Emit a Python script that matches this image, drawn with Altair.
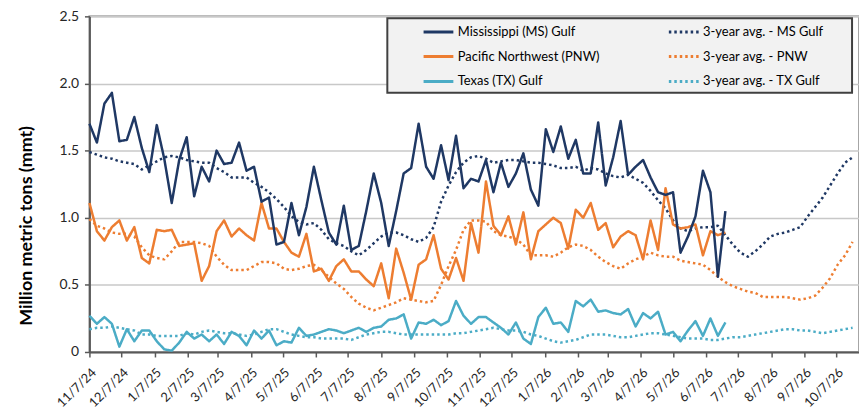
import altair as alt
import pandas as pd

start_date = "2024-11-07"

series_names = [
    "Mississippi (MS) Gulf",
    "3-year avg. - MS Gulf",
    "Pacific Northwest (PNW)",
    "3-year avg. - PNW",
    "Texas (TX) Gulf",
    "3-year avg. - TX Gulf",
]
series_colors = ["#1f3864", "#1f3864", "#ed7d31", "#ed7d31", "#4bacc6", "#4bacc6"]
series_dashes = [[1, 0], [2.5, 3], [1, 0], [2.5, 3], [1, 0], [2.5, 3]]

# weekly actual inspections (million metric tons), from 11/7/24
ms_gulf = [1.70, 1.56, 1.85, 1.93, 1.57, 1.58, 1.75, 1.52, 1.34, 1.69,
           1.44, 1.11, 1.43, 1.60, 1.16, 1.38, 1.27, 1.50, 1.40, 1.41,
           1.56, 1.35, 1.38, 1.12, 1.15, 0.80, 0.82, 1.11, 0.87, 1.08,
           1.38, 1.13, 0.89, 0.80, 1.09, 0.76, 0.79, 1.05, 1.33, 1.11,
           0.79, 1.05, 1.33, 1.37, 1.70, 1.38, 1.29, 1.54, 1.28, 1.61,
           1.22, 1.29, 1.27, 1.43, 1.19, 1.41, 1.23, 1.33, 1.48, 1.21,
           1.09, 1.66, 1.49, 1.68, 1.44, 1.58, 1.33, 1.33, 1.71, 1.24,
           1.45, 1.72, 1.32, 1.38, 1.43, 1.30, 1.19, 1.17, 1.19, 0.74,
           0.86, 1.01, 1.35, 1.19, 0.56, 1.05]
pnw = [1.11, 0.90, 0.83, 0.93, 0.98, 0.83, 0.93, 0.70, 0.66, 0.91,
       0.90, 0.91, 0.79, 0.80, 0.81, 0.53, 0.64, 0.90, 0.98, 0.86,
       0.92, 0.87, 0.83, 1.11, 0.92, 0.92, 0.82, 0.74, 0.71, 0.88,
       0.60, 0.62, 0.53, 0.64, 0.69, 0.60, 0.60, 0.54, 0.49, 0.66,
       0.40, 0.77, 0.59, 0.39, 0.65, 0.69, 0.87, 0.62, 0.54, 0.70,
       0.53, 0.96, 0.74, 1.27, 0.94, 0.87, 1.01, 0.80, 1.04, 0.69,
       0.90, 0.95, 1.00, 0.96, 0.77, 1.06, 1.00, 1.11, 0.91, 0.96,
       0.78, 0.86, 0.90, 0.87, 0.69, 0.98, 0.76, 1.22, 0.95, 0.92,
       0.93, 0.95, 0.72, 0.90, 0.87, 0.89]
tx_gulf = [0.27, 0.21, 0.26, 0.21, 0.04, 0.17, 0.08, 0.16, 0.16, 0.08,
           0.02, 0.01, 0.07, 0.15, 0.10, 0.13, 0.08, 0.13, 0.06, 0.15,
           0.12, 0.05, 0.16, 0.10, 0.16, 0.05, 0.08, 0.07, 0.18, 0.12,
           0.13, 0.15, 0.17, 0.16, 0.14, 0.16, 0.18, 0.15, 0.18, 0.19,
           0.24, 0.25, 0.28, 0.10, 0.22, 0.21, 0.24, 0.20, 0.23, 0.38,
           0.27, 0.21, 0.26, 0.26, 0.22, 0.18, 0.13, 0.22, 0.10, 0.06,
           0.26, 0.33, 0.21, 0.22, 0.15, 0.38, 0.34, 0.39, 0.30, 0.31,
           0.29, 0.28, 0.32, 0.19, 0.29, 0.25, 0.30, 0.13, 0.15, 0.08,
           0.16, 0.23, 0.12, 0.25, 0.12, 0.22]

# 3-year averages, weekly from 11/7/24
ms_avg = [1.49, 1.47, 1.45, 1.44, 1.42, 1.41, 1.40, 1.36, 1.39, 1.42,
          1.45, 1.46, 1.45, 1.43, 1.42, 1.41, 1.41, 1.37, 1.34, 1.30,
          1.30, 1.30, 1.26, 1.23, 1.19, 1.14, 1.08, 1.01, 0.97, 0.95,
          0.96, 0.91, 0.84, 0.81, 0.79, 0.75, 0.72, 0.76, 0.81, 0.86,
          0.89, 0.89, 0.87, 0.84, 0.82, 0.85, 0.93, 1.12, 1.24, 1.34,
          1.41, 1.45, 1.46, 1.44, 1.41, 1.42, 1.43, 1.43, 1.42, 1.41,
          1.41, 1.40, 1.39, 1.37, 1.37, 1.38, 1.35, 1.37, 1.36, 1.33,
          1.31, 1.30, 1.32, 1.29, 1.26, 1.20, 1.13, 1.07, 0.98, 0.92,
          0.90, 0.92, 0.93, 0.93, 0.94, 0.87, 0.80, 0.74, 0.71, 0.75,
          0.80, 0.86, 0.88, 0.89, 0.91, 0.93, 1.01, 1.08, 1.15, 1.24,
          1.33, 1.41, 1.45]
pnw_avg = [0.99, 0.94, 0.92, 0.89, 0.88, 0.88, 0.86, 0.78, 0.72, 0.70,
           0.69, 0.75, 0.82, 0.82, 0.82, 0.81, 0.79, 0.71, 0.65, 0.61,
           0.61, 0.61, 0.64, 0.67, 0.67, 0.66, 0.62, 0.61, 0.62, 0.64,
           0.65, 0.61, 0.56, 0.51, 0.47, 0.41, 0.36, 0.33, 0.31, 0.33,
           0.35, 0.37, 0.40, 0.39, 0.38, 0.37, 0.38, 0.50, 0.64, 0.76,
           0.91, 0.98, 0.98, 0.97, 0.90, 0.87, 0.86, 0.84, 0.80, 0.72,
           0.72, 0.72, 0.71, 0.74, 0.78, 0.80, 0.79, 0.76, 0.71, 0.67,
           0.64, 0.62, 0.66, 0.69, 0.71, 0.74, 0.72, 0.71, 0.71, 0.68,
           0.67, 0.66, 0.65, 0.61, 0.56, 0.52, 0.49, 0.47, 0.45, 0.44,
           0.41, 0.41, 0.41, 0.41, 0.40, 0.39, 0.40, 0.42, 0.48, 0.55,
           0.65, 0.72, 0.82]
tx_avg = [0.17, 0.18, 0.18, 0.19, 0.18, 0.17, 0.16, 0.13, 0.13, 0.12,
          0.12, 0.12, 0.12, 0.14, 0.13, 0.15, 0.16, 0.15, 0.14, 0.14,
          0.13, 0.12, 0.13, 0.15, 0.17, 0.17, 0.15, 0.13, 0.12, 0.11,
          0.11, 0.10, 0.10, 0.10, 0.10, 0.09, 0.11, 0.13, 0.14, 0.15,
          0.15, 0.14, 0.13, 0.13, 0.13, 0.13, 0.13, 0.13, 0.13, 0.14,
          0.14, 0.15, 0.16, 0.17, 0.18, 0.17, 0.16, 0.16, 0.15, 0.13,
          0.12, 0.10, 0.08, 0.07, 0.08, 0.09, 0.11, 0.13, 0.13, 0.13,
          0.12, 0.11, 0.11, 0.12, 0.13, 0.14, 0.14, 0.13, 0.12, 0.11,
          0.10, 0.10, 0.10, 0.09, 0.09, 0.10, 0.11, 0.11, 0.12, 0.13,
          0.14, 0.15, 0.16, 0.17, 0.17, 0.16, 0.16, 0.15, 0.14, 0.15,
          0.16, 0.17, 0.18]

# x-axis tick labels: the 7th of each month, 11/7/24 .. 10/7/26
tick_months = [(2024, 11), (2024, 12)] + [(2025, m) for m in range(1, 13)] + [(2026, m) for m in range(1, 11)]

frames = []
for name, vals in [
    (series_names[1], ms_avg), (series_names[3], pnw_avg), (series_names[5], tx_avg),
    (series_names[4], tx_gulf), (series_names[2], pnw), (series_names[0], ms_gulf),
]:
    dates = pd.date_range(start_date, periods=len(vals), freq="7D")
    frames.append(pd.DataFrame({"date": dates, "series": name, "value": vals}))
df = pd.concat(frames, ignore_index=True)

legend = alt.Legend(
    title=None, orient="none", legendX=335, legendY=-1, columns=2, direction="horizontal",
    columnPadding=63, rowPadding=1, symbolType="stroke", symbolSize=900,
    symbolStrokeWidth=3, labelFont="Lato", labelFontSize=13, labelColor="#000000",
    labelOffset=3, padding=0, labelLimit=300,
)

lines = alt.Chart(df).mark_line(strokeWidth=2.5, strokeJoin="round").encode(
    x=alt.X(
        "date:T",
        title=None,
        scale=alt.Scale(
            domain=[alt.DateTime(year=2024, month=11, date=7), alt.DateTime(year=2026, month=10, date=28)],
            nice=False,
        ),
        axis=alt.Axis(
            values=[alt.DateTime(year=y, month=m, date=7) for y, m in tick_months],
            format="%-m/%-d/%y", labelAngle=-45, labelAlign="right", labelBaseline="top",
            labelPadding=9, labelFont="Lato", labelFontSize=13, labelColor="#262626",
            labelOverlap=False, grid=False, ticks=True, tickSize=5, tickColor="#595959",
            tickWidth=1.5, domainColor="#595959", domainWidth=2,
        ),
    ),
    y=alt.Y(
        "value:Q",
        scale=alt.Scale(domain=[0, 2.5], nice=False),
        axis=alt.Axis(
            title="Million metric tons (mmt)", titleFont="Lato", titleFontSize=18,
            titleFontWeight="bold", titleColor="#000000", titleAngle=270,
            titleX=-63.5, titleY=210.5, titleAlign="center", titleBaseline="middle",
            values=[0, 0.5, 1.0, 1.5, 2.0, 2.5],
            labelExpr="datum.value == 0 ? '0' : format(datum.value, '.1f')",
            labelFont="Lato", labelFontSize=14, labelColor="#262626", labelPadding=6,
            tickSize=5, tickColor="#595959", tickWidth=1.5,
            domainColor="#595959", domainWidth=2,
            grid=True, gridColor="#c8c8c8", gridWidth=1.5,
        ),
    ),
    color=alt.Color("series:N", scale=alt.Scale(domain=series_names, range=series_colors), legend=legend),
    strokeDash=alt.StrokeDash("series:N", scale=alt.Scale(domain=series_names, range=series_dashes), legend=legend),
)

legend_box = alt.Chart(alt.Data(values=[{"k": 1}])).mark_rect(
    fill="#f2f2f2", stroke="#404040", strokeWidth=2
).encode(
    x=alt.value(300), x2=alt.value(768), y=alt.value(2), y2=alt.value(77)
)

chart = alt.layer(legend_box, lines).properties(
    width=775, height=338,
    padding={"left": 82, "top": 7, "right": 0, "bottom": 58},
    autosize=alt.AutoSizeParams(type="none"),
).configure(font="Lato").configure_view(stroke="#a6a6a6", strokeWidth=2)

chart.save("out.html", embed_options={"renderer": "svg", "actions": False})
